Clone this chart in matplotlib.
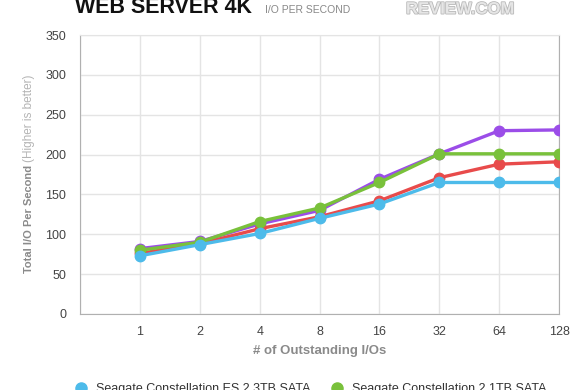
import matplotlib
matplotlib.use("Agg")
import matplotlib.pyplot as plt
import matplotlib.patheffects as pe

plt.rcParams['font.family'] = ['Liberation Sans', 'DejaVu Sans']

categories = ["1", "2", "4", "8", "16", "32", "64", "128"]
series_names = [
    "Seagate Constellation ES.2 3TB SATA",
    "Seagate Constellation ES 2TB SATA",
    "Seagate Constellation.2 1TB SATA",
    "Seagate Constellation 2TB SATA",
]
blue_vals = [73, 87, 101, 120, 138, 165, 165, 165]
red_vals = [76, 88, 107, 122, 142, 171, 188, 191]
green_vals = [80, 90, 116, 133, 165, 201, 201, 201]
purple_vals = [82, 91, 113, 130, 169, 201, 230, 231]
y_ticks = [0, 50, 100, 150, 200, 250, 300, 350]

colors = {"blue": "#4dbbea", "red": "#e84b4b", "green": "#79c13b", "purple": "#9b4de8"}

fig = plt.figure(figsize=(5.8, 3.9), dpi=100)
ax = fig.add_axes([0.138, 0.195, 0.826, 0.715])

x = list(range(1, len(categories) + 1))
lw, ms = 2.4, 7.5
lp, = ax.plot(x, purple_vals, color=colors["purple"], lw=lw, marker='o', ms=ms, zorder=3)
lr, = ax.plot(x, red_vals, color=colors["red"], lw=lw, marker='o', ms=ms, zorder=4)
lg, = ax.plot(x, green_vals, color=colors["green"], lw=lw, marker='o', ms=ms, zorder=5)
lb, = ax.plot(x, blue_vals, color=colors["blue"], lw=lw, marker='o', ms=ms, zorder=6)

ax.set_xlim(0, len(categories))
ax.set_ylim(0, 350)
ax.set_xticks([0] + x)
ax.set_xticklabels([""] + categories)
ax.set_yticks(y_ticks)
ax.grid(True, color="#e4e4e4", lw=1)
ax.set_axisbelow(True)
ax.tick_params(length=0, labelsize=9, colors="#444444")
ax.tick_params(axis='x', pad=9)
ax.tick_params(axis='y', pad=10)
for s in ["left", "bottom", "right"]:
    ax.spines[s].set_color("#b0b0b0")
ax.spines["top"].set_color("#e4e4e4")

ax.set_xlabel("# of Outstanding I/Os", fontsize=9.5, fontweight='bold', color="#8a8a8a", labelpad=5)

fig.text(0.056, 0.30, "Total I/O Per Second", rotation=90, rotation_mode='anchor',
         ha='left', va='baseline', fontsize=8, fontweight='bold', color="#8a8a8a")
fig.text(0.056, 0.585, "(Higher is better)", rotation=90, rotation_mode='anchor',
         ha='left', va='baseline', fontsize=8.5, color="#b4b4b4")

fig.text(0.129, 0.967, "WEB SERVER 4K", fontsize=15.5, fontweight='bold', color="#111111", va='baseline')
fig.text(0.457, 0.967, "I/O PER SECOND", fontsize=7.5, color="#888888", va='baseline')
fig.text(0.70, 0.965, "REVIEW.COM", fontsize=12, fontweight='bold', color="#e6e6e6", va='baseline',
         path_effects=[pe.withStroke(linewidth=1.2, foreground="#b8b8b8")])

leg = fig.legend([lb, lr, lg, lp], [series_names[0], series_names[1], series_names[2], series_names[3]],
                 ncol=2, loc='upper left', bbox_to_anchor=(0.122, 0.03), frameon=False,
                 fontsize=9, handlelength=0.8, handletextpad=0.8, columnspacing=1.7,
                 borderaxespad=0)
for h in leg.legend_handles:
    h.set_linestyle('')
    h.set_markersize(8)
for t in leg.get_texts():
    t.set_color("#333333")

fig.savefig("out.png", dpi=100)
